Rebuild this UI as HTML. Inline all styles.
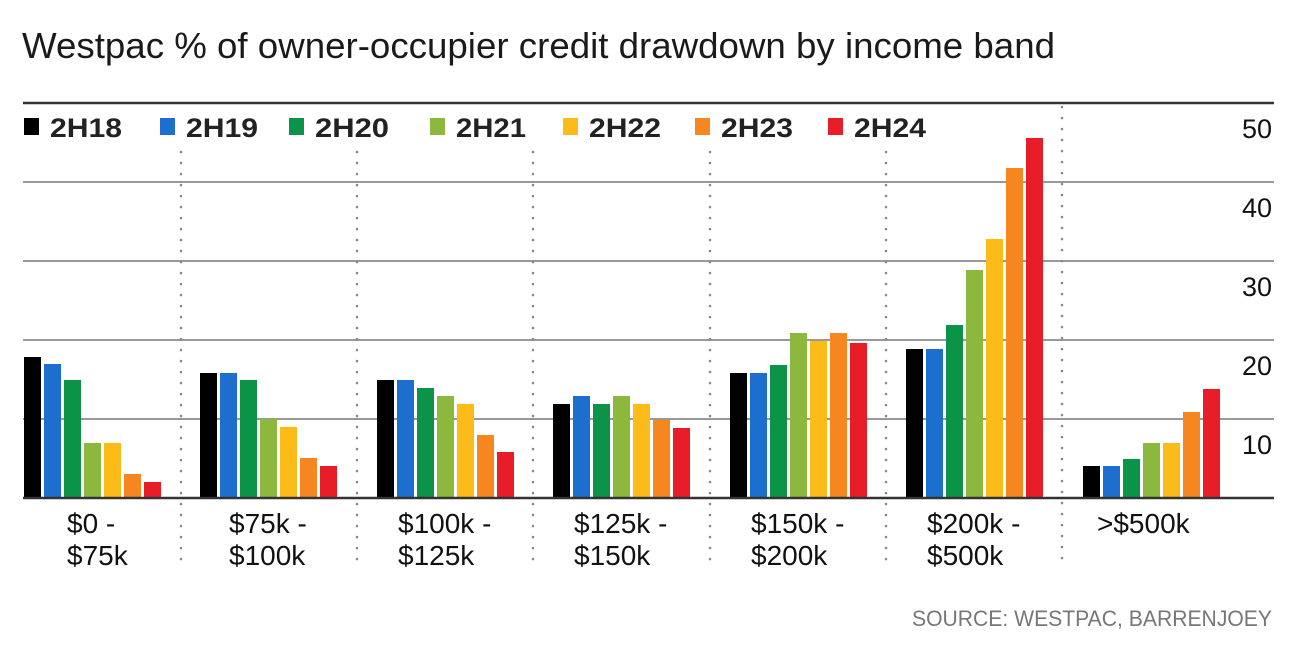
<!DOCTYPE html>
<html><head><meta charset="utf-8"><style>
body{margin:0;background:#fff;width:1294px;height:642px;overflow:hidden;font-family:"Liberation Sans","DejaVu Sans",sans-serif}
</style></head><body>
<svg width="1294" height="642" xmlns="http://www.w3.org/2000/svg" font-family="Liberation Sans, DejaVu Sans, sans-serif">
<text x="22" y="58" font-size="36" fill="#1a1a1a" textLength="1033" lengthAdjust="spacingAndGlyphs">Westpac % of owner-occupier credit drawdown by income band</text>
<line x1="23" y1="103" x2="1274" y2="103" stroke="#333" stroke-width="2.5"/>
<g stroke="#999" stroke-width="2">
<line x1="23" y1="182" x2="1274" y2="182"/>
<line x1="23" y1="261" x2="1274" y2="261"/>
<line x1="23" y1="340" x2="1274" y2="340"/>
<line x1="23" y1="419" x2="1274" y2="419"/>
</g>
<g stroke="#888" stroke-width="2.5" stroke-dasharray="0.1 10.9" stroke-linecap="round">
<line x1="181" y1="152" x2="181" y2="562"/>
<line x1="357" y1="152" x2="357" y2="562"/>
<line x1="533" y1="152" x2="533" y2="562"/>
<line x1="710" y1="152" x2="710" y2="562"/>
<line x1="886" y1="152" x2="886" y2="562"/>
<line x1="1062" y1="107" x2="1062" y2="562"/>
</g>
<g font-size="27" fill="#111" text-anchor="end">
<text x="1272" y="138">50</text><text x="1272" y="217">40</text><text x="1272" y="296">30</text><text x="1272" y="375">20</text><text x="1272" y="454">10</text>
</g>
<g font-size="27" font-weight="bold" fill="#222">
<rect x="24" y="118" width="15" height="17" fill="#000"/><text x="50" y="137" textLength="72" lengthAdjust="spacingAndGlyphs">2H18</text>
<rect x="160" y="118" width="15" height="17" fill="#1c6ecf"/><text x="186" y="137" textLength="72" lengthAdjust="spacingAndGlyphs">2H19</text>
<rect x="289" y="118" width="15" height="17" fill="#0b9447"/><text x="315" y="137" textLength="74" lengthAdjust="spacingAndGlyphs">2H20</text>
<rect x="430" y="118" width="15" height="17" fill="#8cb83d"/><text x="456" y="137" textLength="70" lengthAdjust="spacingAndGlyphs">2H21</text>
<rect x="563" y="118" width="15" height="17" fill="#fbbb19"/><text x="589" y="137" textLength="72" lengthAdjust="spacingAndGlyphs">2H22</text>
<rect x="695" y="118" width="15" height="17" fill="#f58620"/><text x="721" y="137" textLength="72" lengthAdjust="spacingAndGlyphs">2H23</text>
<rect x="828" y="118" width="15" height="17" fill="#e71d28"/><text x="854" y="137" textLength="72" lengthAdjust="spacingAndGlyphs">2H24</text>
</g>
<g>
<rect x="24" y="357" width="17" height="141" fill="#000"/><rect x="44" y="364" width="17" height="134" fill="#1c6ecf"/><rect x="64" y="380" width="17" height="118" fill="#0b9447"/><rect x="84" y="443" width="17" height="55" fill="#8cb83d"/><rect x="104" y="443" width="17" height="55" fill="#fbbb19"/><rect x="124" y="474" width="17" height="24" fill="#f58620"/><rect x="144" y="482" width="17" height="16" fill="#e71d28"/>
<rect x="200" y="373" width="17" height="125" fill="#000"/><rect x="220" y="373" width="17" height="125" fill="#1c6ecf"/><rect x="240" y="380" width="17" height="118" fill="#0b9447"/><rect x="260" y="419" width="17" height="79" fill="#8cb83d"/><rect x="280" y="427" width="17" height="71" fill="#fbbb19"/><rect x="300" y="458" width="17" height="40" fill="#f58620"/><rect x="320" y="466" width="17" height="32" fill="#e71d28"/>
<rect x="377" y="380" width="17" height="118" fill="#000"/><rect x="397" y="380" width="17" height="118" fill="#1c6ecf"/><rect x="417" y="388" width="17" height="110" fill="#0b9447"/><rect x="437" y="396" width="17" height="102" fill="#8cb83d"/><rect x="457" y="404" width="17" height="94" fill="#fbbb19"/><rect x="477" y="435" width="17" height="63" fill="#f58620"/><rect x="497" y="452" width="17" height="46" fill="#e71d28"/>
<rect x="553" y="404" width="17" height="94" fill="#000"/><rect x="573" y="396" width="17" height="102" fill="#1c6ecf"/><rect x="593" y="404" width="17" height="94" fill="#0b9447"/><rect x="613" y="396" width="17" height="102" fill="#8cb83d"/><rect x="633" y="404" width="17" height="94" fill="#fbbb19"/><rect x="653" y="420" width="17" height="78" fill="#f58620"/><rect x="673" y="428" width="17" height="70" fill="#e71d28"/>
<rect x="730" y="373" width="17" height="125" fill="#000"/><rect x="750" y="373" width="17" height="125" fill="#1c6ecf"/><rect x="770" y="365" width="17" height="133" fill="#0b9447"/><rect x="790" y="333" width="17" height="165" fill="#8cb83d"/><rect x="810" y="341" width="17" height="157" fill="#fbbb19"/><rect x="830" y="333" width="17" height="165" fill="#f58620"/><rect x="850" y="343" width="17" height="155" fill="#e71d28"/>
<rect x="906" y="349" width="17" height="149" fill="#000"/><rect x="926" y="349" width="17" height="149" fill="#1c6ecf"/><rect x="946" y="325" width="17" height="173" fill="#0b9447"/><rect x="966" y="270" width="17" height="228" fill="#8cb83d"/><rect x="986" y="239" width="17" height="259" fill="#fbbb19"/><rect x="1006" y="168" width="17" height="330" fill="#f58620"/><rect x="1026" y="138" width="17" height="360" fill="#e71d28"/>
<rect x="1083" y="466" width="17" height="32" fill="#000"/><rect x="1103" y="466" width="17" height="32" fill="#1c6ecf"/><rect x="1123" y="459" width="17" height="39" fill="#0b9447"/><rect x="1143" y="443" width="17" height="55" fill="#8cb83d"/><rect x="1163" y="443" width="17" height="55" fill="#fbbb19"/><rect x="1183" y="412" width="17" height="86" fill="#f58620"/><rect x="1203" y="389" width="17" height="109" fill="#e71d28"/>
</g>
<line x1="23" y1="498" x2="1274" y2="498" stroke="#333" stroke-width="2.5"/>
<g font-size="28" fill="#111">
<text x="67" y="533">$0 -</text><text x="67" y="565">$75k</text>
<text x="229" y="533">$75k -</text><text x="229" y="565">$100k</text>
<text x="398" y="533">$100k -</text><text x="398" y="565">$125k</text>
<text x="574" y="533">$125k -</text><text x="574" y="565">$150k</text>
<text x="751" y="533">$150k -</text><text x="751" y="565">$200k</text>
<text x="927" y="533">$200k -</text><text x="927" y="565">$500k</text>
<text x="1097" y="533">&gt;$500k</text>
</g>
<text x="1272" y="626" font-size="22" fill="#777" text-anchor="end" textLength="360" lengthAdjust="spacingAndGlyphs">SOURCE: WESTPAC, BARRENJOEY</text>
</svg>
</body></html>
